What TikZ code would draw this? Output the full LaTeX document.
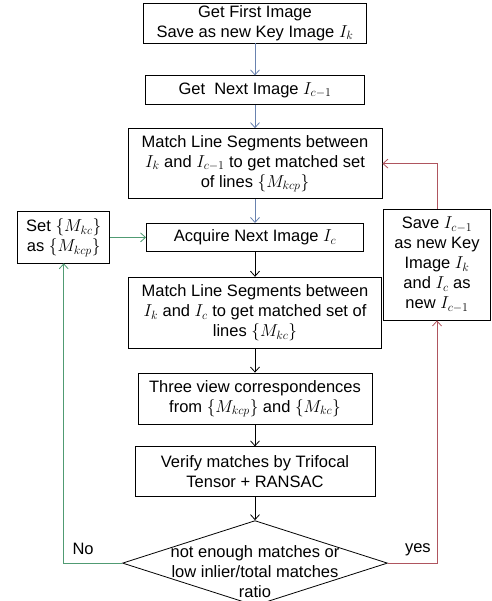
\documentclass[tikz,border=0pt]{standalone}
\usepackage{fontspec}
\setmainfont{Liberation Sans}
\usetikzlibrary{arrows.meta, positioning, shapes.geometric}
\definecolor{setaazul}{RGB}{105, 130, 175}
\definecolor{setaverde}{RGB}{80, 155, 115}
\definecolor{setavermelha}{RGB}{175, 85, 95}

\begin{document}
\begin{tikzpicture}[
        node distance=24pt,
        box/.style={draw, line width=0.8pt, align=center, font=\fontsize{16.5}{20}\selectfont, inner xsep=3pt, inner ysep=1.5pt},
        arrow/.style={-{Straight Barb[length=5pt, width=9pt]}, line width=0.8pt},
        rotulo/.style={font=\fontsize{16.5}{20}\selectfont, inner sep=0pt}
    ]
    \useasboundingbox (0,0) rectangle (491pt,-601pt);

    % Coluna principal
    \node[box, minimum width=223pt, minimum height=40pt] (first) at (255pt,-23pt) {Get First Image\\Save as new Key Image $I_k$};
    \node[box, minimum width=219pt, minimum height=29pt] (next) [below=32pt of first] {Get\ \ Next Image $I_{c-1}$};
    \node[box, minimum width=254pt, minimum height=70pt] (matchprev) [below=23pt of next] {Match Line Segments between\\$I_k$ and $I_{c-1}$ to get matched set\\of lines $\{M_{kcp}\}$};
    \node[box, minimum width=217pt, minimum height=28pt] (acquire) [below=of matchprev] {Acquire Next Image $I_c$};
    \node[box, minimum width=253pt, minimum height=71pt] (matchcur) [below=25pt of acquire] {Match Line Segments between\\$I_k$ and $I_c$ to get matched set of\\lines $\{M_{kc}\}$};
    \node[box, minimum width=234pt, minimum height=51pt] (threeview) [below=of matchcur] {Three view correspondences\\from $\{M_{kcp}\}$ and $\{M_{kc}\}$};
    \node[box, minimum width=240pt, minimum height=50pt] (verify) [below=22pt of threeview] {Verify matches by Trifocal\\Tensor + RANSAC};
    \node[diamond, draw, line width=0.8pt, minimum width=265pt, minimum height=85pt, inner sep=0pt] (dec) [below=23pt of verify] {};
    \node[rotulo, align=center] (dectext) at ([yshift=-8pt]dec.center) {not enough matches or\\low inlier/total matches\\ratio};

    % Caixas laterais
    \node[box, minimum width=92pt, minimum height=51pt] (setbox) [left=36pt of acquire] {Set $\{M_{kc}\}$\\as $\{M_{kcp}\}$};
    \node[box, minimum width=107pt, minimum height=111pt] (savekey) at (437pt,-264.5pt) {Save $I_{c-1}$\\as new Key\\Image $I_k$\\and $I_c$ as\\new $I_{c-1}$};

    \node[rotulo] (nolabel) at ([xshift=-39pt, yshift=14pt]dec.west) {No};
    \node[rotulo] (yeslabel) at ([xshift=30pt, yshift=13pt]dec.east) {yes};

    % Conexoes
    \draw[arrow, color=setaazul] (first.south) -- (next.north);
    \draw[arrow, color=setaazul] (next.south) -- (matchprev.north);
    \draw[arrow, color=setaazul] (matchprev.south) -- (acquire.north);
    \draw[arrow] (acquire.south) -- (matchcur.north);
    \draw[arrow] (matchcur.south) -- (threeview.north);
    \draw[arrow] (threeview.south) -- (verify.north);
    \draw[arrow] (verify.south) -- (dec.north);
    \draw[arrow, color=setaverde] (setbox.east) -- (acquire.west);
    \draw[arrow, color=setaverde] (dec.west) -| (setbox.south);
    \draw[arrow, color=setavermelha] (dec.east) -| (savekey.south);
    \draw[arrow, color=setavermelha] (savekey.north) |- (matchprev.east);
\end{tikzpicture}
\end{document}
